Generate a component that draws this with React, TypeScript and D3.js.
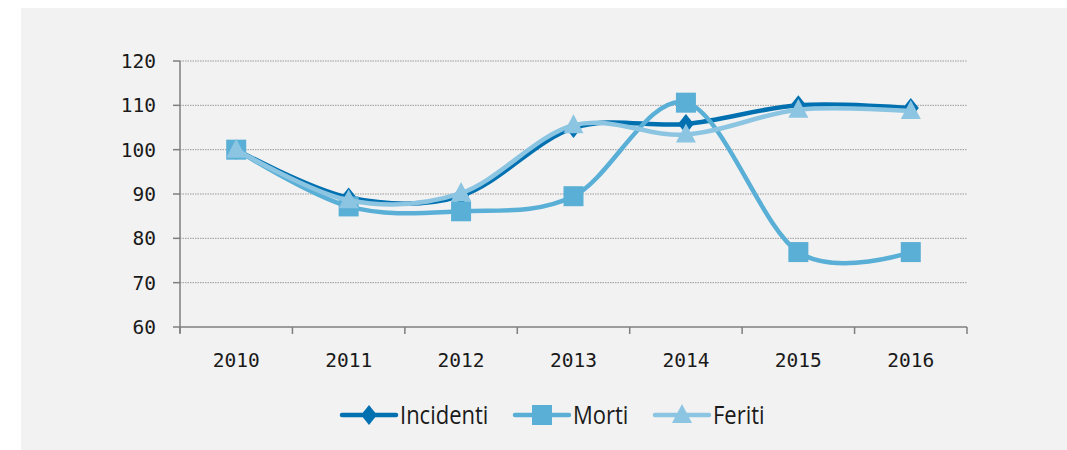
import React from 'react';
import * as d3 from 'd3';

const years = ['2010', '2011', '2012', '2013', '2014', '2015', '2016'];
const incidenti = [100, 89.2, 89.6, 104.9, 105.8, 110, 109.4];
const morti = [100, 87.2, 86.1, 89.5, 110.6, 76.9, 76.9];
const feriti = [100, 88.6, 90.2, 105.5, 103.4, 109, 108.7];
const yTicks = [60, 70, 80, 90, 100, 110, 120];

const series = [
  { name: 'Incidenti', values: incidenti, color: '#0070b0', marker: 'diamond' },
  { name: 'Morti', values: morti, color: '#5aafd6', marker: 'square' },
  { name: 'Feriti', values: feriti, color: '#8cc5e2', marker: 'triangle' },
];

const W = 1067;
const H = 450;
const margin = { top: 61, right: 100, bottom: 123, left: 180 };

const Marker = ({ type, x, y, color }) => {
  if (type === 'diamond') {
    return <path d={`M${x},${y - 10}L${x + 8},${y}L${x},${y + 10}L${x - 8},${y}Z`} fill={color} />;
  }
  if (type === 'square') {
    return <rect x={x - 10} y={y - 10} width={20} height={20} fill={color} />;
  }
  return <path d={`M${x},${y - 11}L${x + 10},${y + 8}L${x - 10},${y + 8}Z`} fill={color} />;
};

export default function App() {
  const x = d3
    .scaleBand()
    .domain(years)
    .range([margin.left, W - margin.right])
    .padding(0);
  const y = d3
    .scaleLinear()
    .domain([60, 120])
    .range([H - margin.bottom, margin.top]);

  const line = d3
    .line<number>()
    .curve(d3.curveCatmullRom.alpha(0))
    .x((_, i) => x(years[i]) + x.bandwidth() / 2)
    .y((d) => y(d));

  const x0 = margin.left;
  const x1 = W - margin.right;
  const yb = H - margin.bottom;
  const legendX = [342, 515, 655];
  const legendY = 415;

  return (
    <svg
      width={W}
      height={H}
      style={{ position: 'absolute', left: 0, top: 0 }}
      fontFamily="'DejaVu Sans Mono', monospace"
    >
      <rect x={21} y={8} width={W - 21} height={H - 8} fill="#f2f2f2" />

      {yTicks.map((t) => (
        <g key={t}>
          {t > 60 && (
            <line x1={x0} x2={x1} y1={y(t)} y2={y(t)} stroke="#9a9a9a" strokeWidth={1} strokeDasharray="1.5,1" />
          )}
          <line x1={x0 - 7} x2={x0} y1={y(t)} y2={y(t)} stroke="#7f7f7f" strokeWidth={1.5} />
          <text x={156} y={y(t)} dy="0.36em" textAnchor="end" fontSize={19.5} fill="#1a1a1a">
            {t}
          </text>
        </g>
      ))}

      <line x1={x0} x2={x0} y1={margin.top} y2={yb + 6} stroke="#7f7f7f" strokeWidth={1.5} />
      <line x1={x0} x2={x1} y1={yb} y2={yb} stroke="#7f7f7f" strokeWidth={1.5} />
      {years.map((yr) => (
        <line key={'t' + yr} x1={x(yr)} x2={x(yr)} y1={yb} y2={yb + 7} stroke="#7f7f7f" strokeWidth={1.5} />
      ))}
      <line x1={x1} x2={x1} y1={yb} y2={yb + 7} stroke="#7f7f7f" strokeWidth={1.5} />
      {years.map((yr) => (
        <text
          key={'l' + yr}
          x={x(yr) + x.bandwidth() / 2}
          y={367}
          textAnchor="middle"
          fontSize={19.5}
          fill="#1a1a1a"
        >
          {yr}
        </text>
      ))}

      {series.map((s) => (
        <g key={s.name}>
          <path d={line(s.values)} fill="none" stroke={s.color} strokeWidth={4.5} strokeLinecap="round" />
          {s.values.map((v, i) => (
            <Marker key={i} type={s.marker} x={x(years[i]) + x.bandwidth() / 2} y={y(v)} color={s.color} />
          ))}
        </g>
      ))}

      {series.map((s, i) => (
        <g key={'lg' + s.name}>
          <line
            x1={legendX[i]}
            x2={legendX[i] + 54}
            y1={legendY}
            y2={legendY}
            stroke={s.color}
            strokeWidth={4.5}
            strokeLinecap="round"
          />
          <Marker type={s.marker} x={legendX[i] + 27} y={legendY} color={s.color} />
          <text
            transform={`translate(${legendX[i] + 58},${legendY}) scale(0.88,1)`}
            dy="0.36em"
            fontSize={25}
            fill="#1a1a1a"
            fontFamily="'Open Sans', 'Noto Sans', sans-serif"
          >
            {s.name}
          </text>
        </g>
      ))}
    </svg>
  );
}
